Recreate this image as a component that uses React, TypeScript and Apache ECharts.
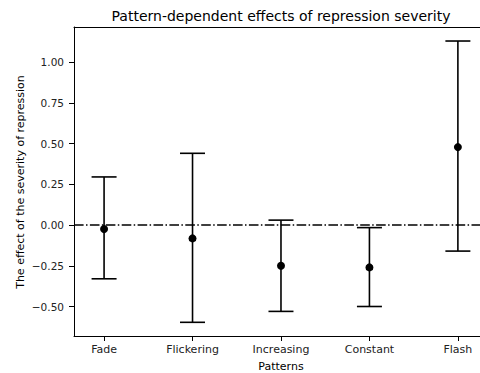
import React, { useEffect, useRef } from "react";
import * as echarts from "echarts";

const categories = ["Fade", "Flickering", "Increasing", "Constant", "Flash"];
const estimates = [-0.025, -0.082, -0.25, -0.26, 0.478];
const lowerBounds = [-0.33, -0.597, -0.53, -0.5, -0.16];
const upperBounds = [0.295, 0.44, 0.03, -0.016, 1.129];
const yTicks = [-0.5, -0.25, 0, 0.25, 0.5, 0.75, 1.0];

const FONT = "DejaVu Sans";

function fmt(v: number) {
  const s = Math.abs(v).toFixed(2);
  return v < 0 ? "\u2212" + s : s;
}

export default function App() {
  const ref = useRef<HTMLDivElement>(null);
  useEffect(() => {
    if (!ref.current) return;
    const chart = echarts.init(ref.current, null, { renderer: "svg" });
    const data = categories.map((c, i) => [i, estimates[i], lowerBounds[i], upperBounds[i]]);
    chart.setOption({
      animation: false,
      backgroundColor: "#ffffff",
      textStyle: { fontFamily: FONT },
      graphic: [
        {
          type: "text",
          x: 281,
          y: 16,
          style: {
            text: "Pattern-dependent effects of repression severity",
            font: `14px "${FONT}"`,
            fill: "#000",
            textAlign: "center",
            textVerticalAlign: "middle",
          },
        },
        {
          type: "text",
          x: 281,
          y: 366,
          style: {
            text: "Patterns",
            font: `11px "${FONT}"`,
            fill: "#000",
            textAlign: "center",
            textVerticalAlign: "middle",
          },
        },
        {
          type: "text",
          x: 20,
          y: 182,
          rotation: Math.PI / 2,
          style: {
            text: "The effect of the severity of repression",
            font: `11px "${FONT}"`,
            fill: "#000",
            textAlign: "center",
            textVerticalAlign: "middle",
          },
        },
      ],
      grid: { left: 74, top: 27, right: 0, bottom: 37 },
      xAxis: [
        {
          type: "value",
          min: -0.34,
          max: 4.25,
          splitLine: { show: false },
          axisLine: { show: true, onZero: false, lineStyle: { color: "#000", width: 1 } },
          axisTick: { show: true, customValues: [0, 1, 2, 3, 4], length: 5, lineStyle: { color: "#000" } },
          axisLabel: {
            customValues: [0, 1, 2, 3, 4],
            formatter: (v: number) => categories[Math.round(v)] ?? "",
            fontFamily: FONT,
            fontSize: 11,
            color: "#222",
            margin: 8,
          },
        },
        {
          type: "value",
          position: "top",
          min: -0.34,
          max: 4.25,
          splitLine: { show: false },
          axisLine: { show: true, onZero: false, lineStyle: { color: "#000", width: 1 } },
          axisTick: { show: false },
          axisLabel: { show: false },
        },
      ],
      yAxis: {
        type: "value",
        min: -0.681,
        max: 1.215,
        splitLine: { show: false },
        axisLine: { show: true, onZero: false, lineStyle: { color: "#000", width: 1 } },
        axisTick: { show: true, customValues: yTicks, length: 5, lineStyle: { color: "#000" } },
        axisLabel: {
          customValues: yTicks,
          formatter: (v: number) => fmt(v),
          fontFamily: FONT,
          fontSize: 10.5,
          color: "#222",
          margin: 10,
        },
      },
      series: [
        {
          type: "line",
          data: [],
          markLine: {
            silent: true,
            symbol: "none",
            label: { show: false },
            lineStyle: { color: "#000", width: 1.5, type: [9.6, 2.4, 1.5, 2.4] },
            data: [{ yAxis: 0 }],
          },
        },
        {
          type: "custom",
          data,
          z: 5,
          renderItem: (params: any, api: any) => {
            const x = api.value(0);
            const c = api.coord([x, api.value(1)]);
            const lo = api.coord([x, api.value(2)]);
            const hi = api.coord([x, api.value(3)]);
            const half = 12.5;
            const ls = { stroke: "#000", lineWidth: 1.6 };
            return {
              type: "group",
              children: [
                { type: "line", shape: { x1: lo[0], y1: lo[1], x2: hi[0], y2: hi[1] }, style: ls },
                { type: "line", shape: { x1: hi[0] - half, y1: hi[1], x2: hi[0] + half, y2: hi[1] }, style: ls },
                { type: "line", shape: { x1: lo[0] - half, y1: lo[1], x2: lo[0] + half, y2: lo[1] }, style: ls },
                { type: "circle", shape: { cx: c[0], cy: c[1], r: 4 }, style: { fill: "#000" } },
              ],
            };
          },
        },
      ],
    });
    return () => chart.dispose();
  }, []);
  return <div ref={ref} style={{ width: 480, height: 373, position: "fixed", left: 0, top: 0 }} />;
}
